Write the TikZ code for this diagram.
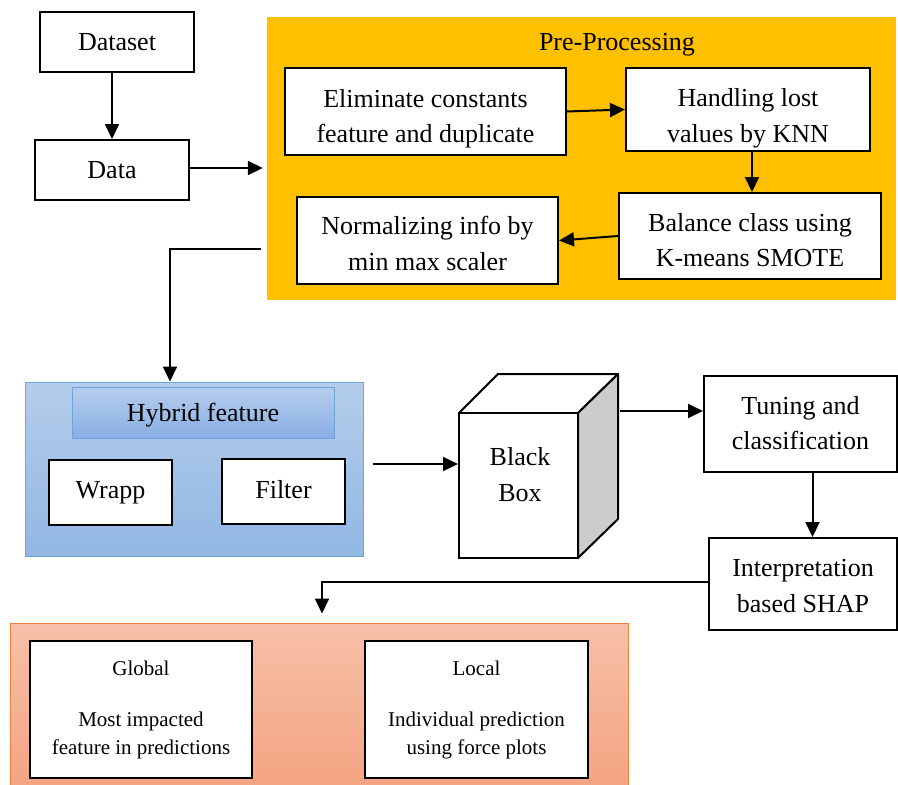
\documentclass[tikz,border=0pt]{standalone}
\usepackage{fontspec}
\setmainfont{Liberation Serif}
\usetikzlibrary{arrows.meta}
\definecolor{preorange}{HTML}{FFC000}
\definecolor{bluetop}{RGB}{180,205,235}
\definecolor{bluebot}{RGB}{145,183,227}
\definecolor{blueedge}{RGB}{111,163,218}
\definecolor{salmtop}{RGB}{247,192,168}
\definecolor{salmbot}{RGB}{244,164,130}
\definecolor{salmedge}{RGB}{240,130,60}
\begin{document}
\begin{tikzpicture}[x=1pt,y=-1pt,
  box/.style={draw=black, line width=2pt, fill=white, align=center, inner sep=0pt,
    font=\fontsize{26}{35}\selectfont},
  txt/.style={align=center, inner sep=0pt, font=\fontsize{26}{35.5}\selectfont},
  smallbox/.style={draw=black, line width=2pt, fill=white, align=center, inner sep=0pt,
    font=\fontsize{21}{28}\selectfont},
  arr/.style={line width=2pt, -{Triangle[length=15pt,width=14pt]}},
]
\useasboundingbox (0,0) rectangle (898,785);

% Top-left
\node[box, minimum width=154pt, minimum height=60pt] (dataset) at (117,42) {Dataset};
\node[box, minimum width=154pt, minimum height=60pt] (data) at (112,170) {Data};

% Pre-processing container
\node[fill=preorange, minimum width=629pt, minimum height=283pt, inner sep=0pt] (pre) at (581.5,158.5) {};
\node[txt] (pretitle) at (617,45) {Pre-Processing};
\node[box, minimum width=281pt, minimum height=87pt] (elim) at (425.5,111.5) {};
\node[txt] (elimt) at ([yshift=-7pt]elim) {Eliminate constants\\feature and duplicate};
\node[box, minimum width=244pt, minimum height=83pt] (handl) at (748,109.5) {};
\node[txt] (handlt) at ([yshift=-9pt]handl) {Handling lost\\values by KNN};
\node[box, minimum width=262pt, minimum height=86pt] (bal) at (750,236) {};
\node[txt] (balt) at ([yshift=-4pt]bal) {Balance class using\\K-means SMOTE};
\node[box, minimum width=261pt, minimum height=87pt] (norm) at (427.5,240.5) {};
\node[txt] (normt) at ([yshift=-3pt]norm) {Normalizing info by\\min max scaler};

% Hybrid feature container
\node[draw=blueedge, line width=1pt, top color=bluetop, bottom color=bluebot,
  minimum width=338pt, minimum height=174pt, inner sep=0pt] (hyb) at (194,469) {};
\node[draw=blueedge, line width=1pt, top color=bluetop, bottom color=bluebot!95!blue,
  minimum width=262pt, minimum height=51pt, inner sep=0pt] (hybt) at (203,412.5) {};
\node[txt] (hybtt) at ([yshift=-3pt]hybt) {Hybrid feature};
\node[box, minimum width=123pt, minimum height=65pt] (wrapp) at (110.5,492.5) {Wrapp};
\node[box, minimum width=123pt, minimum height=65pt] (filter) at (283.5,491.5) {};
\node[txt] (filtert) at ([yshift=2pt]filter) {Filter};

% Black box cube
\draw[line width=2pt, fill=white, line join=round] (459,413) -- (498,374) -- (618,374) -- (578,413) -- cycle;
\draw[line width=2pt, fill=black!20, line join=round] (578,413) -- (618,374) -- (618,519) -- (578,558) -- cycle;
\node[draw=black, line width=2pt, fill=white, minimum width=119pt, minimum height=145pt, inner sep=0pt] (cube) at (518.5,485.5) {};
\node[txt, font=\fontsize{26}{36}\selectfont] (cubet) at (520,475) {Black\\Box};
\coordinate (cubeout) at (620,411);

% Right column
\node[box, minimum width=193pt, minimum height=96pt] (tune) at (800.5,424) {};
\node[txt] (tunet) at ([yshift=1pt]tune) {Tuning and\\classification};
\node[box, minimum width=188pt, minimum height=92pt] (interp) at (803,584) {};
\node[txt] (interpt) at ([yshift=-2pt]interp) {Interpretation\\based SHAP};

% Bottom container
\node[draw=salmedge, line width=1pt, top color=salmtop, bottom color=salmbot,
  minimum width=618pt, minimum height=162pt, inner sep=0pt] (bot) at (319,704) {};
\node[smallbox, minimum width=222pt, minimum height=137pt] (global) at (141,709.5) {Global\\[23pt]Most impacted\\feature in predictions};
\node[smallbox, minimum width=223pt, minimum height=137pt] (local) at (476.5,709.5) {Local\\[23pt]Individual prediction\\using force plots};

% Connectors
\draw[arr] (dataset.south -| data.north) -- (data.north);
\draw[arr, shorten >=4pt] ([yshift=2pt]data.east) -- ([yshift=2pt]data.east -| pre.west);
\draw[arr] (elim.east) -- (handl.west);
\draw[arr] ([xshift=4pt]handl.south) -- ([xshift=4pt]handl.south |- bal.north);
\draw[arr] (bal.west) -- (norm.east);
\coordinate (p1) at ([shift={(-6,90.5)}]pre.west);
\draw[arr] (p1) -| ([xshift=-24pt]hyb.north);
\coordinate (hb) at ([shift={(9,-5)}]hyb.east);
\draw[arr] (hb) -- (hb -| cube.west);
\draw[arr] (cubeout) -- (cubeout -| tune.west);
\draw[arr] ([xshift=12pt]tune.south) -- ([xshift=12pt]tune.south |- interp.north);
\draw[arr, shorten >=9pt] ([yshift=2pt]interp.west) -| ([xshift=3pt]bot.north);
\end{tikzpicture}
\end{document}
